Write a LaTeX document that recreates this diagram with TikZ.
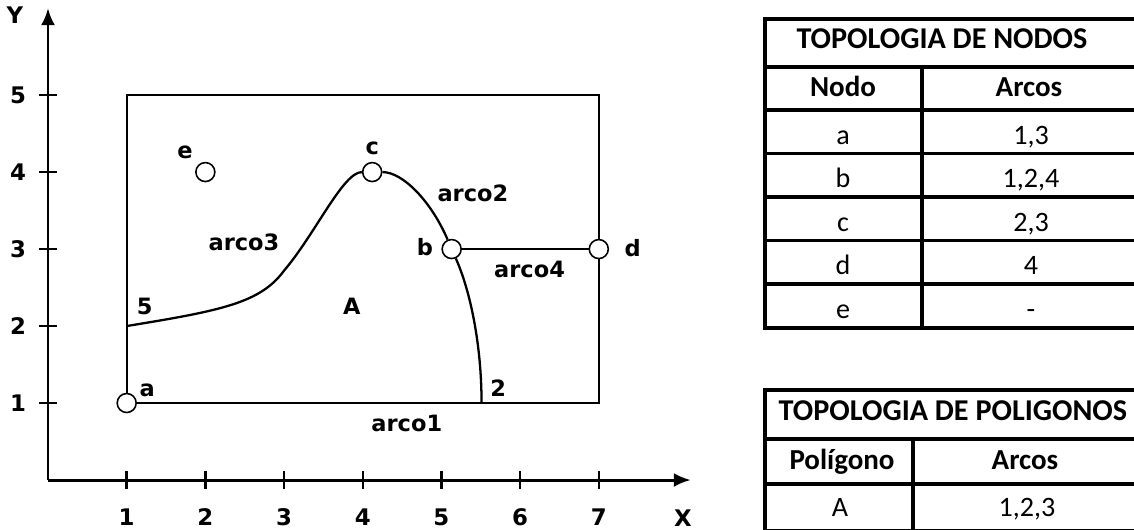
\documentclass[tikz,border=0pt]{standalone}
\usepackage{fontspec}
\setmainfont{DejaVu Sans}
\newfontfamily\tabfont{Carlito}
\usetikzlibrary{arrows.meta}

\tikzset{
  vertex/.style={circle, draw, fill=white, line width=0.9pt, minimum size=0.38cm, inner sep=0pt},
  lbl/.style={font=\fontsize{12.8}{15}\selectfont\bfseries, inner sep=0pt},
  ticklbl/.style={font=\fontsize{13}{15}\selectfont\bfseries, inner sep=0pt},
  axis/.style={line width=1.7pt, -{Latex[length=0.34cm,width=0.28cm]}},
  tick/.style={line width=1.4pt},
  edge/.style={line width=1.3pt},
  grid/.style={line width=1.8pt},
  cell/.style={font=\tabfont\fontsize{16}{18}\selectfont, inner sep=0pt, text height=1.6ex, text depth=0.4ex},
  headcell/.style={cell, font=\tabfont\fontsize{16.5}{18}\selectfont\bfseries},
  titlecell/.style={cell, font=\tabfont\fontsize{17.2}{19}\selectfont\bfseries},
}

\begin{document}
\begin{tikzpicture}[x=0.02cm, y=-0.02cm]
  \useasboundingbox (0,0) rectangle (1134,529);
  % plot: one unit per tick
  \begin{scope}[shift={(48,480)}, x=1.574cm, y=1.54cm]
    \coordinate (o) at (0,0);
    \coordinate (xend) at (8.17,0);
    \coordinate (yend) at (0,6.13);
    \draw[axis] (o) -- (xend);
    \draw[axis] (o) -- (yend);
    \foreach \i in {1,...,7} {
      \draw[tick] (\i,-0.115) -- (\i,0.115);
      \node[ticklbl] (xt\i) at (\i,-0.48) {\i};
    }
    \foreach \i in {1,...,5} {
      \draw[tick] (-0.115,\i) -- (0.115,\i);
      \node[ticklbl] (yt\i) at (-0.38,\i) {\i};
    }
    \node[ticklbl] (xname) at (8.07,-0.49) {X};
    \node[ticklbl] (yname) at (-0.42,6.04) {Y};

    \coordinate (tl) at (1,5);
    \coordinate (tr) at (7,5);
    \coordinate (br) at (7,1);
    \coordinate (p5) at (1,2);
    \coordinate (p2) at (5.51,1);
    \node[vertex] (a) at (1,1) {};
    \node[vertex] (b) at (5.13,3) {};
    \node[vertex] (c) at (4.12,4) {};
    \node[vertex] (d) at (7,3) {};
    \node[vertex] (e) at (2,4) {};

    \draw[edge] (a) -- (tl) -- (tr) -- (d);
    \draw[edge] (d) -- (br) -- (a);
    \draw[edge] (b) -- (d);
    \draw[edge] (p5) .. controls (2.2,2.2) and (2.7,2.3) .. (3,2.72)
                     .. controls (3.4,3.2) and (3.75,4) .. (c);
    \draw[edge] (c) .. controls (4.51,4) and (4.87,3.62) .. (b);
    \draw[edge] (b) .. controls (5.37,2.45) and (5.51,1.75) .. (p2);

    \node[lbl] (la) at (1.26,1.17) {a};
    \node[lbl] (lb) at (4.79,3.03) {b};
    \node[lbl] (lc) at (4.12,4.31) {c};
    \node[lbl] (ld) at (7.43,3.01) {d};
    \node[lbl] (le) at (1.74,4.26) {e};
    \node[lbl] (l5) at (1.23,2.25) {5};
    \node[lbl] (l2) at (5.72,1.19) {2};
    \node[lbl] (lA) at (3.86,2.25) {A};
    \node[lbl] (arco1) at (4.56,0.74) {arco1};
    \node[lbl] (arco2) at (5.40,3.73) {arco2};
    \node[lbl] (arco3) at (2.49,3.09) {arco3};
    \node[lbl] (arco4) at (6.12,2.73) {arco4};
  \end{scope}

  % node table
  \draw[grid] (765,19) rectangle (1142,328);
  \foreach \y in {67,110,153.5,197,240.5,284} \draw[grid] (765,\y) -- (1142,\y);
  \draw[grid] (922,67) -- (922,328);
  \node[titlecell] (nhead) at (942,43) {TOPOLOGIA DE NODOS};
  \node[headcell] (nnodo) at (843,91) {Nodo};
  \node[headcell] (narcos) at (1029,91) {Arcos};
  \foreach \n/\s [count=\r] in {a/{1,3},b/{1,2,4},c/{2,3},d/4,e/-} {
    \node[cell] (nn\r) at (843,95+43.5*\r) {\n};
    \node[cell] (ns\r) at (1031,95+43.5*\r) {\s};
  }

  % polygon table
  \draw[grid] (765,390) rectangle (1142,531);
  \draw[grid] (765,439) -- (1142,439);
  \draw[grid] (765,484) -- (1142,484);
  \draw[grid] (913,439) -- (913,531);
  \node[titlecell] (phead) at (953,415) {TOPOLOGIA DE POLIGONOS};
  \node[headcell] (ppol) at (842,464) {Polígono};
  \node[headcell] (parcos) at (1025,464) {Arcos};
  \node[cell] (pA) at (840,511) {A};
  \node[cell] (ps) at (1027,511) {1,2,3};
\end{tikzpicture}
\end{document}
